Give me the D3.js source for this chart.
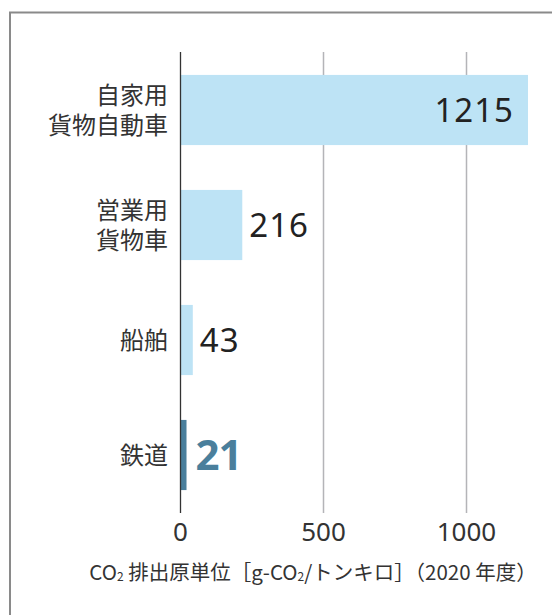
<!DOCTYPE html>
<html>
<head>
<meta charset="utf-8">
<script src="https://cdn.jsdelivr.net/npm/d3@7"></script>
<style>
  body { margin: 0; background: #fff; }
  svg { display: block; }
</style>
</head>
<body>
<div id="chart-area"></div>
<script>
// data
let categories = [["自家用", "貨物自動車"], ["営業用", "貨物車"], ["船舶"], ["鉄道"]];
let values = [1215, 216, 43, 21];
let highlight = [false, false, false, true];
let tickValues = [0, 500, 1000];

let W = 552, H = 615;
let jp = "'Noto Sans CJK JP', 'Noto Sans', sans-serif";

let svg = d3.select("#chart-area")
	.append("svg")
	.attr("width", W)
	.attr("height", H);

// outer frame (open to the right and bottom)
svg.append("path")
	.attr("d", "M10,615 V12.5 H552")
	.attr("fill", "none")
	.attr("stroke", "#8a8a8a")
	.attr("stroke-width", 2);

let plotTop = 52, plotBottom = 513;

// scales
let x = d3.scaleLinear()
	.domain([0, 1000])
	.range([180.5, 466.5]);

let y = d3.scaleBand()
	.domain(d3.range(values.length))
	.range([plotTop + 0.5, plotBottom - 0.5])
	.paddingInner(0.39)
	.paddingOuter(0.195);

// grid lines
svg.selectAll(".grid")
	.data(tickValues.filter(d => d > 0))
	.enter().append("line")
	.attr("class", "grid")
	.attr("x1", d => x(d)).attr("x2", d => x(d))
	.attr("y1", plotTop).attr("y2", plotBottom)
	.attr("stroke", "#b4b4b8")
	.attr("stroke-width", 1.5);

// bars
svg.selectAll(".bar")
	.data(values)
	.enter().append("rect")
	.attr("class", "bar")
	.attr("x", x(0))
	.attr("y", (d, i) => y(i))
	.attr("width", d => x(d) - x(0))
	.attr("height", y.bandwidth())
	.attr("fill", (d, i) => highlight[i] ? "#4a7f9c" : "#bde3f5");

// zero axis line
svg.append("line")
	.attr("x1", x(0)).attr("x2", x(0))
	.attr("y1", plotTop).attr("y2", plotBottom)
	.attr("stroke", "#333")
	.attr("stroke-width", 1.3);

// value labels
svg.selectAll(".val")
	.data(values)
	.enter().append("text")
	.attr("class", "val")
	.attr("x", (d, i) => i === 0 ? x(d) - 14 : x(d) + (highlight[i] ? 9 : 7))
	.attr("y", (d, i) => y(i) + y.bandwidth() / 2)
	.attr("dy", "0.36em")
	.attr("text-anchor", (d, i) => i === 0 ? "end" : "start")
	.style("font-family", "'Noto Sans', sans-serif")
	.style("font-size", (d, i) => highlight[i] ? "42px" : "33px")
	.style("font-weight", (d, i) => highlight[i] ? "700" : "400")
	.style("letter-spacing", (d, i) => highlight[i] ? "-1px" : "1px")
	.attr("fill", (d, i) => highlight[i] ? "#4a7f9c" : "#222")
	.text(d => d);

// category labels
let cat = svg.selectAll(".cat")
	.data(categories)
	.enter().append("text")
	.attr("class", "cat")
	.attr("text-anchor", "end")
	.style("font-family", jp)
	.style("font-size", "24px")
	.attr("fill", "#333");

cat.selectAll("tspan")
	.data((d, i) => d.map((s, j) => ({s: s, j: j, n: d.length, i: i})))
	.enter().append("tspan")
	.attr("x", 168)
	.attr("y", d => y(d.i) + y.bandwidth() / 2 + (d.j - (d.n - 1) / 2) * 30)
	.attr("dy", "0.36em")
	.text(d => d.s);

// x axis tick labels
svg.selectAll(".tick-label")
	.data(tickValues)
	.enter().append("text")
	.attr("class", "tick-label")
	.attr("x", d => x(d))
	.attr("y", 532)
	.attr("dy", "0.36em")
	.attr("text-anchor", "middle")
	.style("font-family", "'Noto Sans', sans-serif")
	.style("font-size", "26px")
	.attr("fill", "#333")
	.text(d => d);

// axis title
let title = svg.append("text")
	.attr("x", 313)
	.attr("y", 580)
	.attr("text-anchor", "middle")
	.style("font-family", jp)
	.style("font-size", "20.5px")
	.attr("fill", "#333");
title.append("tspan").text("CO");
title.append("tspan").attr("font-size", "12px").attr("dy", "1").text("2");
title.append("tspan").attr("dy", "-1").text(" 排出原単位［g-CO");
title.append("tspan").attr("font-size", "12px").attr("dy", "1").text("2");
title.append("tspan").attr("dy", "-1").text("/トンキロ］（2020 年度）");
</script>
</body>
</html>
